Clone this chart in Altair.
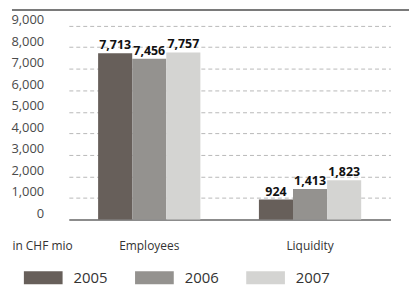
import altair as alt
import pandas as pd

metrics = ["Employees", "Liquidity"]
years = ["2005", "2006", "2007"]
employees = [7713, 7456, 7757]
liquidity = [924, 1413, 1823]
colors = ["#675f5a", "#94928f", "#d4d4d2"]
y_ticks = [0, 1000, 2000, 3000, 4000, 5000, 6000, 7000, 8000, 9000]
y_max = 9724

rows = []
for m, vals in zip(metrics, [employees, liquidity]):
    for yr, v in zip(years, vals):
        rows.append({"metric": m, "year": yr, "value": v})
df = pd.DataFrame(rows)

FONT = "Open Sans"

x_axis = alt.Axis(
    title="in CHF mio", titleX=0, titleY=21, titleAlign="left", titleBaseline="top",
    titleFont=FONT, titleFontSize=12, titleFontWeight="normal", titleColor="#333333",
    labelAngle=0, labelFont=FONT, labelFontSize=12, labelColor="#333333",
    labelBaseline="top", labelPadding=21, ticks=False,
    domain=True, domainColor="#8c8c8c", domainWidth=2,
    grid=False,
)
y_axis = alt.Axis(
    title=None, values=y_ticks, format=",.0f", ticks=False, domain=False,
    grid=True, gridColor="#b8b8b8", gridDash=[4, 3], gridWidth=1,
    labelAlign="right", labelPadding=-32, labelBaseline="alphabetic", labelOffset=-2,
    labelFont=FONT, labelFontSize=13, labelColor="#4a4a4a", labelOverlap=False,
)
x_scale = alt.Scale(domain=metrics, range=[57.3, 381.3], paddingInner=0.364, paddingOuter=0.182)
y_scale = alt.Scale(domain=[0, y_max], nice=False, zero=True)
off_scale = alt.Scale(domain=years, paddingInner=0, paddingOuter=0)

base = alt.Chart(df)

bars = base.mark_bar(stroke=None).encode(
    x=alt.X("metric:N", scale=x_scale, axis=x_axis),
    xOffset=alt.XOffset("year:N", scale=off_scale),
    y=alt.Y("value:Q", scale=y_scale, axis=y_axis),
    color=alt.Color(
        "year:N",
        scale=alt.Scale(domain=years, range=colors),
        legend=alt.Legend(
            title=None, orient="none", direction="horizontal", columns=3,
            legendX=11, legendY=262, padding=0,
            symbolType="M-1,-1H5V1H-1Z", symbolSize=169, symbolStrokeWidth=0,
            symbolOpacity=1, labelOffset=36, columnPadding=26,
            labelFont=FONT, labelFontSize=15, labelColor="#333333",
        ),
    ),
)

labels = base.mark_text(
    dy=-4, baseline="alphabetic", font=FONT, fontSize=12.5, fontWeight="bold", color="#111111"
).encode(
    x=alt.X("metric:N", scale=x_scale, axis=x_axis),
    xOffset=alt.XOffset("year:N", scale=off_scale),
    y=alt.Y("value:Q", scale=y_scale, axis=y_axis),
    text=alt.Text("value:Q", format=",.0f"),
)

top_line = alt.Chart(pd.DataFrame({"value": [y_max]})).mark_rule(
    color="#7a7a7a", strokeWidth=2
).encode(y=alt.Y("value:Q", scale=y_scale, axis=y_axis))

chart = alt.layer(bars, labels, top_line).properties(
    width=400, height=211,
    padding={"left": 2, "top": 0, "right": 0, "bottom": 0},
).configure_view(stroke=None)

chart.save("out.html", embed_options={"renderer": "svg", "actions": False})
